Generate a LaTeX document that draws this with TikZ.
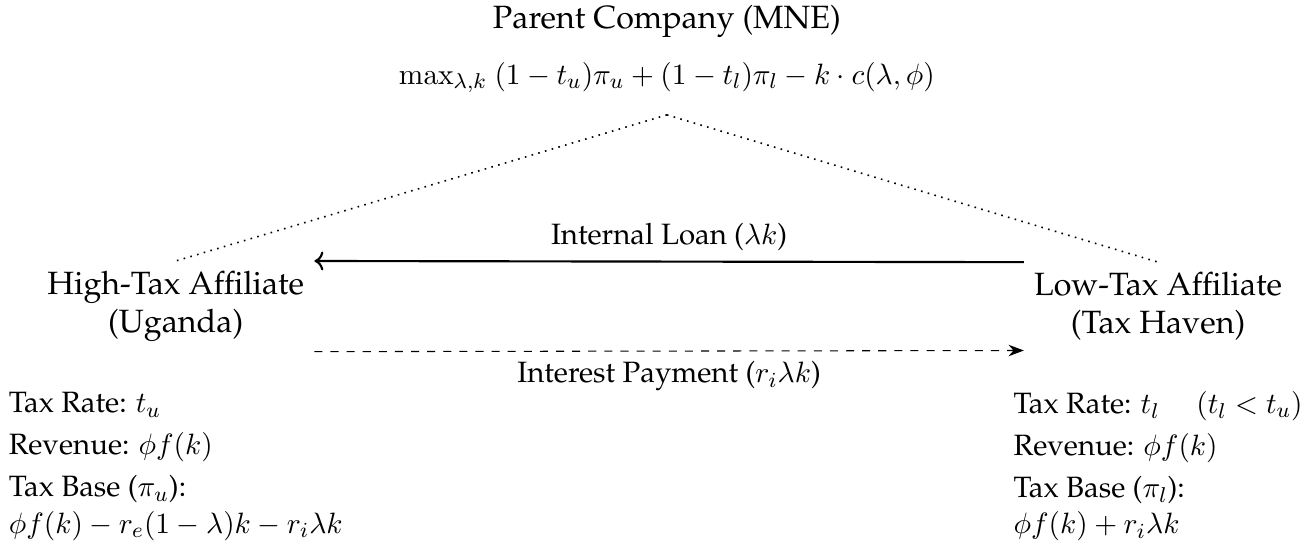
\documentclass[11pt,tikz,border=0pt]{standalone}
\usepackage[T1]{fontenc}
\usepackage{palatino}
\usepackage{amsmath}
\usetikzlibrary{arrows.meta,positioning}

\begin{document}
\begin{tikzpicture}[
      firm/.style={font=\large,align=center},
      info/.style={align=left},
      owns/.style={dotted,semithick},
      loan/.style={thick,->},
      interest/.style={dashed,-{Stealth[length=2mm]}}
    ]
      \useasboundingbox (-8.73,-3.19) rectangle (8.47,4.01);

      \node[font=\large] (mne) at (0,3.73) {Parent Company (MNE)};
      \node[below=0.5mm of mne] (obj) {$\max_{\lambda,k}\ (1-t_u)\pi_u + (1-t_l)\pi_l - k\cdot c(\lambda,\phi)$};
      \coordinate[below=1.5mm of obj] (top);

      \node[firm] (high) at (-6.43,0) {High-Tax Affiliate\\(Uganda)};
      \node[firm] (low) at (6.43,0) {Low-Tax Affiliate\\(Tax Haven)};

      \draw[owns] (top) -- (high.north);
      \draw[owns] (top) -- (low.north);

      \draw[loan] (low.north west) -- node[above]{Internal Loan ($\lambda k$)} (high.north east);
      \draw[interest] (high.south east) -- node[below]{Interest Payment ($r_i\lambda k$)} (low.south west);

      \node[info,below=4mm of high] (highinfo) {Tax Rate: $t_u$\\[2pt]
        Revenue: $\phi f(k)$\\[2pt]
        Tax Base ($\pi_u$):\\
        $\phi f(k) - r_e(1-\lambda)k - r_i\lambda k$};
      \node[info,below=4mm of low] (lowinfo) {Tax Rate: $t_l$ \quad $(t_l < t_u)$\\[2pt]
        Revenue: $\phi f(k)$\\[2pt]
        Tax Base ($\pi_l$):\\
        $\phi f(k) + r_i\lambda k$};
\end{tikzpicture}
\end{document}
